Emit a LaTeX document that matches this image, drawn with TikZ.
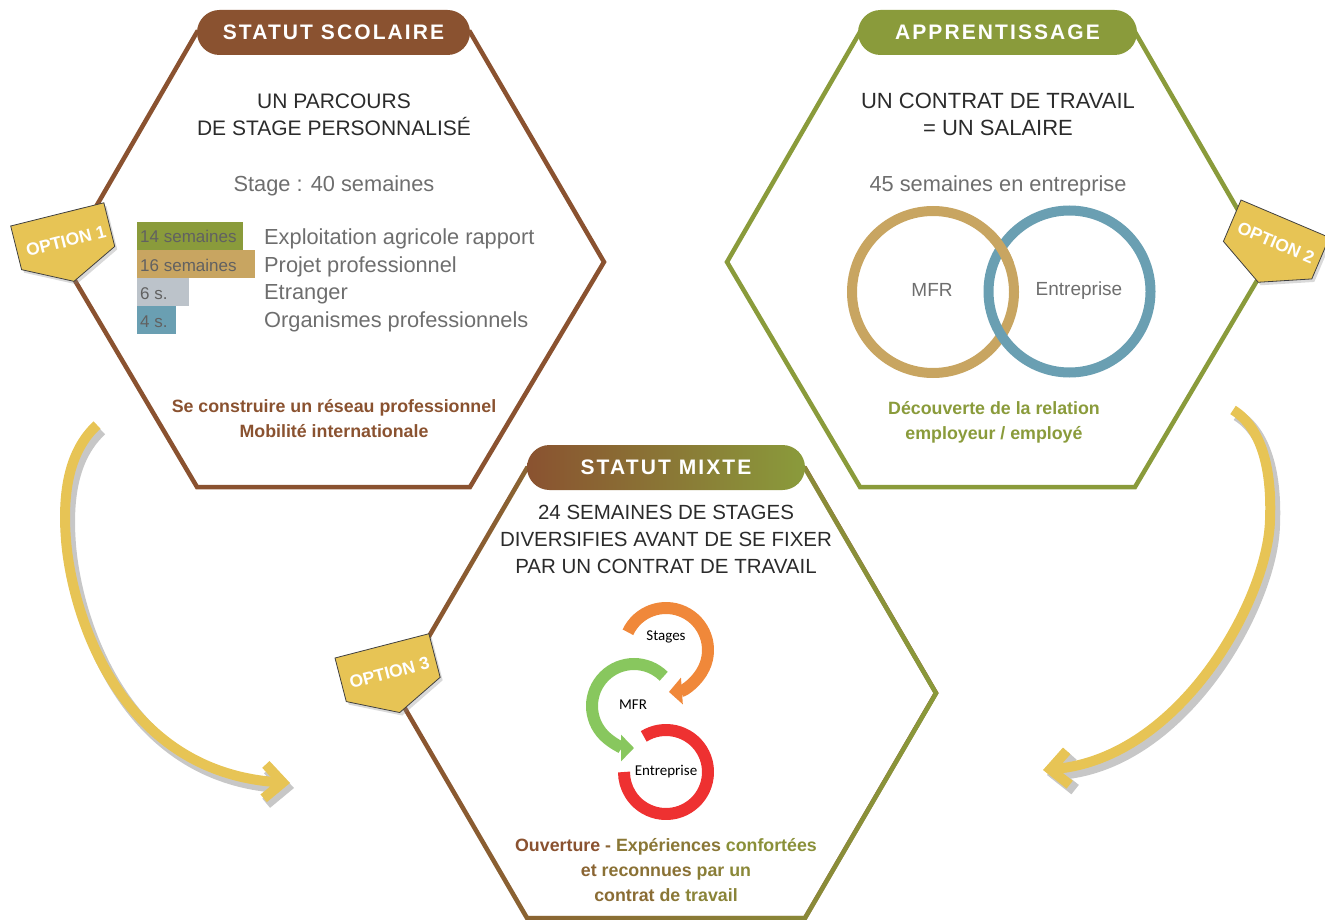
\documentclass[tikz,border=0pt]{standalone}
\usepackage{fontspec}
\setmainfont{Liberation Sans}
\newfontfamily\titlefont{Liberation Sans}[LetterSpace=10]
\newfontfamily\calfont{Carlito}
\usetikzlibrary{arrows.meta,shadows,fadings}
\definecolor{brn}{HTML}{8A5230}
\definecolor{grn}{HTML}{8A9B3B}
\definecolor{ylw}{HTML}{E7C455}
\definecolor{tanc}{HTML}{C8A561}
\definecolor{bluc}{HTML}{6A9FB2}
\definecolor{gryc}{HTML}{BCC3CA}
\definecolor{orgc}{HTML}{F0883A}
\definecolor{lgrc}{HTML}{88C75E}
\definecolor{redc}{HTML}{EE3131}
\definecolor{txt}{HTML}{2B2B2B}
\definecolor{lgt}{HTML}{6E6E6E}
\tikzfading[name=lrfade, left color=transparent!100, right color=transparent!0]
\begin{document}
\begin{tikzpicture}[x=1pt,y=-1pt,
  hexb/.style={draw=brn, line width=4.5pt, line join=miter},
  hexg/.style={draw=grn, line width=4.5pt, line join=miter},
  pill/.style={rounded corners=22.5pt, minimum width=#1, minimum height=45pt, inner sep=0pt, text=white, font=\titlefont\bfseries\fontsize{21}{25}\selectfont},
  head/.style={text=txt, align=center, font=\fontsize{21}{27}\selectfont},
  lite/.style={text=lgt, font=\fontsize{21.8}{26}\selectfont},
  barlbl/.style={anchor=base west, text=black!62, font=\fontsize{17}{20}\selectfont, inner sep=0pt},
  itemlbl/.style={anchor=base west, text=lgt, font=\fontsize{21.8}{26}\selectfont, inner sep=0pt},
  boldb/.style={align=center, font=\bfseries\fontsize{17.8}{25}\selectfont},
  badge/.style={fill=ylw, draw=black!75, line width=0.8pt, line join=miter, drop shadow={opacity=0.3, shadow xshift=2.5pt, shadow yshift=-3pt}},
  badgetxt/.style={text=white, font=\bfseries\fontsize{17.5}{20}\selectfont, inner sep=0pt},
  bigarrow/.style={draw=ylw, line width=10pt, -{Straight Barb[length=18pt, width=34pt]}},
  arrowshadow/.style={draw=black, line width=12pt, -{Straight Barb[length=18pt, width=34pt]}},
  ring/.style={line width=10pt},
  cyc/.style={line width=12pt},
  cyclbl/.style={font=\calfont\fontsize{15}{17}\selectfont, text=black},
  circlbl/.style={text=lgt, font=\fontsize{19}{22}\selectfont}
]
\useasboundingbox (0,0) rectangle (1325,920);

% ---------- hexagons ----------
\draw[hexb] (197,32) -- (470,32) -- (604,262) -- (470,487) -- (197,487) -- (64,262) -- cycle;
\draw[hexg] (860,32) -- (1135,32) -- (1268,262) -- (1135,487) -- (860,487) -- (727,262) -- cycle;
\draw[hexb] (527,468) -- (805,468) -- (936,693) -- (805,918) -- (527,918) -- (396,693) -- cycle;
\draw[hexg, path fading=lrfade] (527,468) -- (805,468) -- (936,693) -- (805,918) -- (527,918) -- (396,693) -- cycle;

% ---------- title pills ----------
\node[pill=273, fill=brn] (t1) at (333.5,32.5) {STATUT SCOLAIRE};
\node[pill=279, fill=grn] (t2) at (997.5,32.5) {APPRENTISSAGE};
\node[pill=278, left color=brn, right color=grn] (t3) at (666,467.5) {STATUT MIXTE};

% ---------- left hexagon content ----------
\node[head] (h1) at (334,114.5) {UN PARCOURS\\DE STAGE PERSONNALISÉ};
\node[lite] (st) at (334,186) {Stage : 40 semaines};
\fill[grn] (137,222) rectangle (243,250);
\fill[tanc] (137,250) rectangle (255,278);
\fill[gryc] (137,278) rectangle (189,306);
\fill[bluc] (137,306) rectangle (176,334);
\node[barlbl] (b1) at (140,243) {14 semaines};
\node[barlbl] (b2) at (140,271) {16 semaines};
\node[barlbl] (b3) at (140,299) {6 s.};
\node[barlbl] (b4) at (140,327) {4 s.};
\node[itemlbl] (l1) at (264,244) {Exploitation agricole rapport};
\node[itemlbl] (l2) at (264,272) {Projet professionnel};
\node[itemlbl] (l3) at (264,299.5) {Etranger};
\node[itemlbl] (l4) at (264,327) {Organismes professionnels};
\node[boldb, text=brn] (s1) at (334,418.5) {Se construire un réseau professionnel\\Mobilité internationale};

% ---------- right hexagon content ----------
\node[head, font=\fontsize{22}{27}\selectfont] (h2) at (998,114.5) {UN CONTRAT DE TRAVAIL\\= UN SALAIRE};
\node[lite] (s2) at (998,186) {45 semaines en entreprise};
\draw[ring, tanc] (933,292) circle[radius=81];
\draw[ring, bluc] (1069.5,291.5) circle[radius=81];
\draw[ring, tanc] (933,292) ++(-46:81) arc[start angle=-46, end angle=-20, radius=81];
\node[circlbl] (m1) at (932,290) {MFR};
\node[circlbl] (e1) at (1079,291) {Entreprise};
\node[boldb, text=grn] (d1) at (994,422) {Découverte de la relation\\employeur / employé};

% ---------- middle hexagon content ----------
\node[head, font=\fontsize{20.5}{27}\selectfont] (h3) at (666,539) {24 SEMAINES DE STAGES\\DIVERSIFIES AVANT DE SE FIXER\\PAR UN CONTRAT DE TRAVAIL};
\draw[cyc, orgc, -{Triangle[length=13pt,width=26pt]}] (666,650) ++(-155:42) arc[start angle=-155, end angle=86, radius=42];
\draw[cyc, lgrc, -{Triangle[length=13pt,width=26pt]}] (634,706) ++(-45:42) arc[start angle=-45, end angle=-270, radius=42];
\draw[cyc, redc] (666,772) ++(-122:42) arc[start angle=-122, end angle=180, radius=42];
\node[cyclbl] (c1) at (666,637) {Stages};
\node[cyclbl] (c2) at (633,705) {MFR};
\node[cyclbl] (c3) at (666,772) {Entreprise};
\node[boldb] (o1) at (666,870) {\textcolor{brn}{Ouverture} \textcolor{grn!25!brn}{-} \textcolor{grn!50!brn}{Expériences} \textcolor{grn!85!brn}{confortées}\\
  \textcolor{grn!25!brn}{et} \textcolor{grn!42!brn}{reconnues} \textcolor{grn!61!brn}{par} \textcolor{grn!74!brn}{un}\\
  \textcolor{grn!35!brn}{contrat} \textcolor{grn!51!brn}{de} \textcolor{grn!68!brn}{travail}};

% ---------- option badges ----------
\begin{scope}[shift={(10.7,226)}, rotate=14]
  \path[badge] (0,0) -- (96,0) -- (96,45) -- (48,69) -- (0,45) -- cycle;
  \node[badgetxt, rotate=14] (op1) at (50,28) {OPTION 1};
\end{scope}
\begin{scope}[shift={(1241,200)}, rotate=-23]
  \path[badge] (0,0) -- (96,0) -- (96,45) -- (48,69) -- (0,45) -- cycle;
  \node[badgetxt, rotate=-23] (op2) at (49,26) {OPTION 2};
\end{scope}
\begin{scope}[shift={(335,658)}, rotate=14.5]
  \path[badge] (0,0) -- (97,0) -- (97,45) -- (49,69) -- (0,45) -- cycle;
  \node[badgetxt, rotate=14.5] (op3) at (49,28) {OPTION 3};
\end{scope}

% ---------- curved arrows ----------
\coordinate (a1s) at (97,425);
\coordinate (a1e) at (290,783);
\coordinate (a2s) at (1233,410);
\coordinate (a2e) at (1043,770);
\begin{scope}[transparency group, opacity=0.22, transform canvas={xshift=4pt, yshift=-5pt}]
  \draw[arrowshadow] (a1s) .. controls (70,450) and (62,490) .. (66,540) .. controls (72,615) and (120,772) .. (a1e);
  \draw[arrowshadow] (a2s) .. controls (1262,428) and (1272,470) .. (1270,520) .. controls (1268,600) and (1180,758) .. (a2e);
\end{scope}
\draw[bigarrow] (a1s) .. controls (70,450) and (62,490) .. (66,540) .. controls (72,615) and (120,772) .. (a1e);
\draw[bigarrow] (a2s) .. controls (1262,428) and (1272,470) .. (1270,520) .. controls (1268,600) and (1180,758) .. (a2e);
\end{tikzpicture}
\end{document}
